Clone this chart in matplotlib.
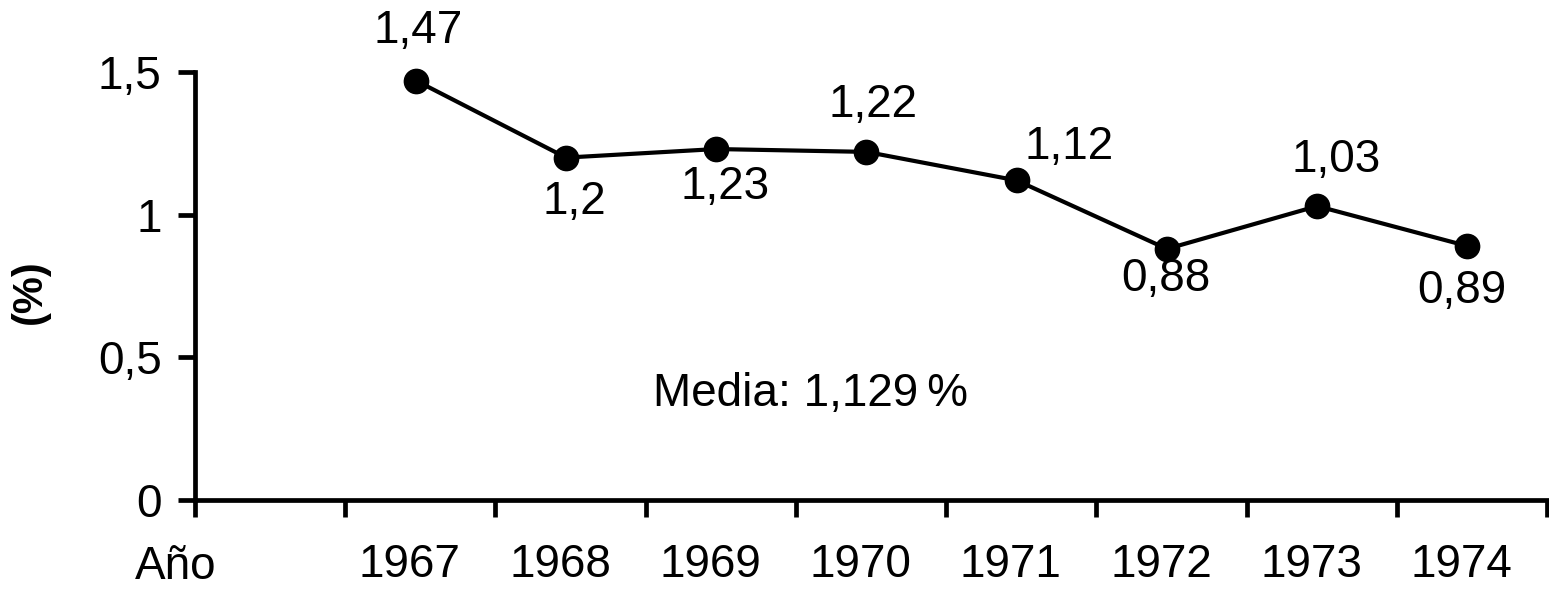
import matplotlib
matplotlib.use("Agg")
import matplotlib.pyplot as plt
import numpy as np

plt.rcParams['font.family'] = ['Liberation Sans', 'DejaVu Sans']

# data
years = ['1967', '1968', '1969', '1970', '1971', '1972', '1973', '1974']
values = [1.47, 1.20, 1.23, 1.22, 1.12, 0.88, 1.03, 0.89]
value_labels = ['1,47', '1,2', '1,23', '1,22', '1,12', '0,88', '1,03', '0,89']
yticks = [0, 0.5, 1, 1.5]
ytick_labels = ['0', '0,5', '1', '1,5']
mean_text = 'Media: 1,129\u2009%'

# label offsets from each point, in pixels (dx, dy)
label_offsets = [(2, 50), (8, -44), (9, -38), (7, 47), (52, 33), (-1, -30), (19, 46), (-6, -45)]

fig = plt.figure(figsize=(15.49, 6.04), dpi=100)
ax = fig.add_axes([195 / 1549, 1 - 500 / 604, (1547 - 195) / 1549, (500 - 72) / 604])

x = np.arange(len(years)) + 1.47
ax.plot(x, values, color='black', lw=3, marker='o', ms=17.5, zorder=3, clip_on=False)

for xi, v, lab, (dx, dy) in zip(x, values, value_labels, label_offsets):
    ax.annotate(lab, (xi, v), xytext=(dx, dy), textcoords='offset pixels',
                ha='center', va='center', fontsize=33)

ax.set_xlim(0, len(years) + 1)
ax.set_ylim(0, 1.5)

for side in ['top', 'right']:
    ax.spines[side].set_visible(False)
for side in ['left', 'bottom']:
    ax.spines[side].set_linewidth(3.4)

ax.set_yticks(yticks)
ax.set_yticklabels(ytick_labels)
ax.tick_params(axis='y', length=12, width=3.4, pad=12, labelsize=33)

ax.set_xticks(np.arange(len(years) + 2))
ax.set_xticklabels([])
ax.set_xticks(np.arange(len(years)) + 1.43, minor=True)
ax.set_xticklabels(years, minor=True)
ax.tick_params(axis='x', which='major', length=12, width=3.4)
ax.tick_params(axis='x', which='minor', length=0, pad=31, labelsize=33)

ax.text(-0.13, -45 / 428, 'Año', transform=ax.get_xaxis_transform(),
        ha='center', va='top', fontsize=33)

ax.text(4.1, 0.37, mean_text, ha='center', va='center', fontsize=33)

fig.text(30 / 1549, 1 - 292 / 604, '(%)', rotation=90, ha='center', va='center',
         fontsize=30, fontweight='bold')

fig.savefig('out.png', dpi=100)
